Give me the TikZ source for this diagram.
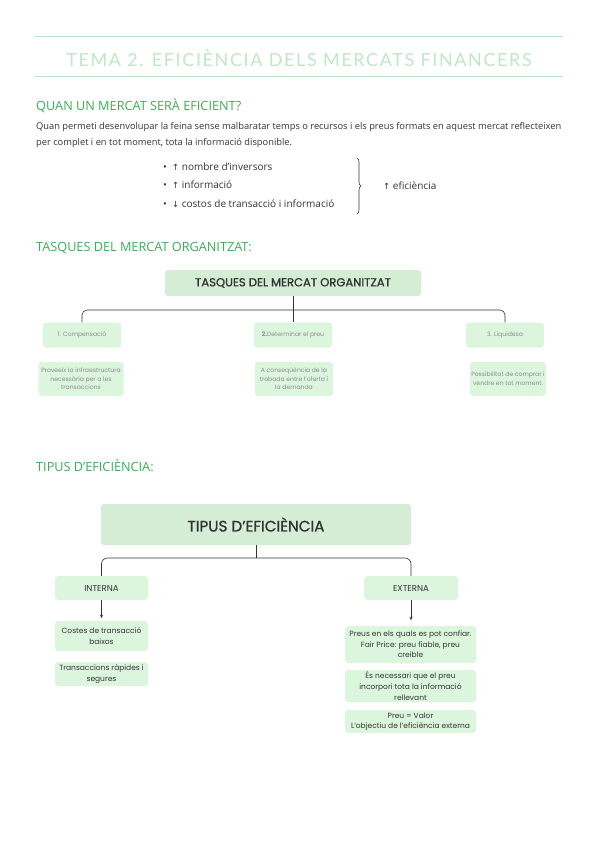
\documentclass[tikz,border=0pt]{standalone}
\usepackage{fontspec}
\setmainfont{Open Sans}
\newfontfamily\boxfont{Poppins}
\newfontfamily\titlefont{Lato}
\newfontfamily\symfont{DejaVu Sans}
\usetikzlibrary{decorations.pathreplacing,arrows.meta}
\definecolor{titlegreen}{HTML}{C0E7C7}
\definecolor{rulegreen}{HTML}{BCE4C4}
\definecolor{headgreen}{HTML}{3DAE55}
\definecolor{bigfill}{HTML}{D5EDD5}
\definecolor{smallfill}{HTML}{DCF6DE}
\definecolor{txt}{HTML}{333333}
\definecolor{faint}{HTML}{8C8C8C}
\tikzset{
  heading/.style={anchor=west, text=headgreen, font=\fontsize{12.7}{14}\selectfont, inner sep=0pt},
  bigbox/.style={fill=bigfill, rounded corners=3pt, inner sep=0pt, text=txt},
  smallbox/.style={fill=smallfill, rounded corners=3pt, inner sep=0pt, align=center, text=faint, font=\boxfont\fontsize{6.1}{8.6}\selectfont},
  effbox/.style={fill=smallfill, rounded corners=3pt, inner sep=0pt, align=center, text=txt, font=\boxfont\fontsize{7.5}{10.6}\selectfont},
  conn/.style={draw=txt, line width=0.6pt},
  bullet/.style={anchor=west, text=txt, font=\fontsize{10}{11}\selectfont, inner sep=0pt}
}
\begin{document}
\begin{tikzpicture}[x=1pt,y=-1pt]
\useasboundingbox[fill=white] (0,0) rectangle (599,848);
% title
\draw[rulegreen, line width=1pt] (35,37) coordinate (r1a) -- (563,37) coordinate (r1b);
\node[text=titlegreen, font=\titlefont\fontsize{18}{20}\selectfont\addfontfeatures{LetterSpace=9}, inner sep=0pt] (title) at (299,58) {TEMA 2. EFICIÈNCIA DELS MERCATS FINANCERS};
\draw[rulegreen, line width=1pt] (35,77) coordinate (r2a) -- (563,77) coordinate (r2b);
% section 1
\node[heading] (h1) at (36,106) {QUAN UN MERCAT SERÀ EFICIENT?};
\node[anchor=west, text=txt, font=\fontsize{9.3}{16}\selectfont, inner sep=0pt, align=left] (para) at (36,135) {Quan permeti desenvolupar la feina sense malbaratar temps o recursos i els preus formats en aquest mercat reflecteixen\\per complet i en tot moment, tota la informació disponible.};
\node[bullet] (b1) at (163,167) {•\ \ {\symfont\fontsize{8.5}{9}\selectfont↑} nombre d’inversors};
\node[bullet] (b2) at (163,185) {•\ \ {\symfont\fontsize{8.5}{9}\selectfont↑} informació};
\node[bullet] (b3) at (163,204) {•\ \ {\symfont\fontsize{8.5}{9}\selectfont↓} costos de transacció i informació};
\coordinate (bra) at (357,158);
\coordinate (brb) at (357,214);
\draw[txt, line width=0.6pt, decorate, decoration={brace, amplitude=4pt}] (bra) -- (brb);
\node[bullet] (eff) at (383,186) {{\symfont\fontsize{8.5}{9}\selectfont↑} eficiència};
% section 2
\node[heading] (h2) at (36,248) {TASQUES DEL MERCAT ORGANITZAT:};
\node[bigbox, minimum width=256pt, minimum height=26pt, font=\boxfont\fontsize{11.6}{13}\selectfont\addfontfeatures{FakeBold=1.2}] (t1) at (293,283) {TASQUES DEL MERCAT ORGANITZAT};
\node[smallbox, minimum width=78pt, minimum height=25pt] (k1) at (82,335) {1. Compensació};
\node[smallbox, minimum width=78pt, minimum height=25pt] (k2) at (293,335) {\textbf{2.}Determinar el preu};
\node[smallbox, minimum width=78pt, minimum height=25pt] (k3) at (505,335) {3. Liquidesa};
\node[smallbox, minimum width=85pt, minimum height=34pt] (d1) at (81,379) {Proveeix la infraestructura\\necessària per a les\\transaccions};
\node[smallbox, minimum width=78pt, minimum height=34pt] (d2) at (294,379) {A conseqüència de la\\trobada entre l’oferta i\\la demanda};
\node[smallbox, minimum width=76pt, minimum height=34pt] (d3) at (508,379) {Possibilitat de comprar i\\vendre en tot moment.};
\coordinate (j1) at (293,310);
\draw[conn, rounded corners=5pt] (k1.north) |- (j1) -| (k3.north);
\draw[conn] (t1.south) -- (k2.north);
% section 3
\node[heading] (h3) at (36,466) {TIPUS D’EFICIÈNCIA:};
\node[bigbox, minimum width=310pt, minimum height=41pt, font=\boxfont\fontsize{15.2}{17}\selectfont\addfontfeatures{FakeBold=1}] (t2) at (256,524.5) {TIPUS D’EFICIÈNCIA};
\node[effbox, minimum width=93pt, minimum height=24pt, font=\boxfont\fontsize{8.6}{10}\selectfont] (in) at (101.5,588) {INTERNA};
\node[effbox, minimum width=94pt, minimum height=24pt, font=\boxfont\fontsize{8.6}{10}\selectfont] (ex) at (411,588) {EXTERNA};
\coordinate (j2) at (256,558);
\draw[conn, rounded corners=6pt] (in.north) |- (j2) -| (ex.north);
\draw[conn] (t2.south) -- (j2);
\node[effbox, minimum width=93pt, minimum height=30pt] (i1) at (101.5,636) {Costes de transacció\\baixos};
\node[effbox, minimum width=93pt, minimum height=24pt] (i2) at (101.5,674) {Transaccions ràpides i\\segures};
\node[effbox, minimum width=131pt, minimum height=37pt] (e1) at (410.5,644.5) {Preus en els quals es pot confiar.\\Fair Price: preu fiable, preu\\creible};
\node[effbox, minimum width=131pt, minimum height=32pt] (e2) at (410.5,686) {És necessari que el preu\\incorpori tota la informació\\rellevant};
\node[effbox, minimum width=131pt, minimum height=23pt] (e3) at (410.5,721.5) {Preu = Valor\\L’objectiu de l’eficiència externa};
\draw[conn, -{Stealth[length=3.5pt,width=3pt]}] (in.south) -- ++(0,18) coordinate (ia);
\draw[conn, -{Stealth[length=3.5pt,width=3pt]}] (ex.south) -- ++(0,20) coordinate (ea);
\end{tikzpicture}
\end{document}
